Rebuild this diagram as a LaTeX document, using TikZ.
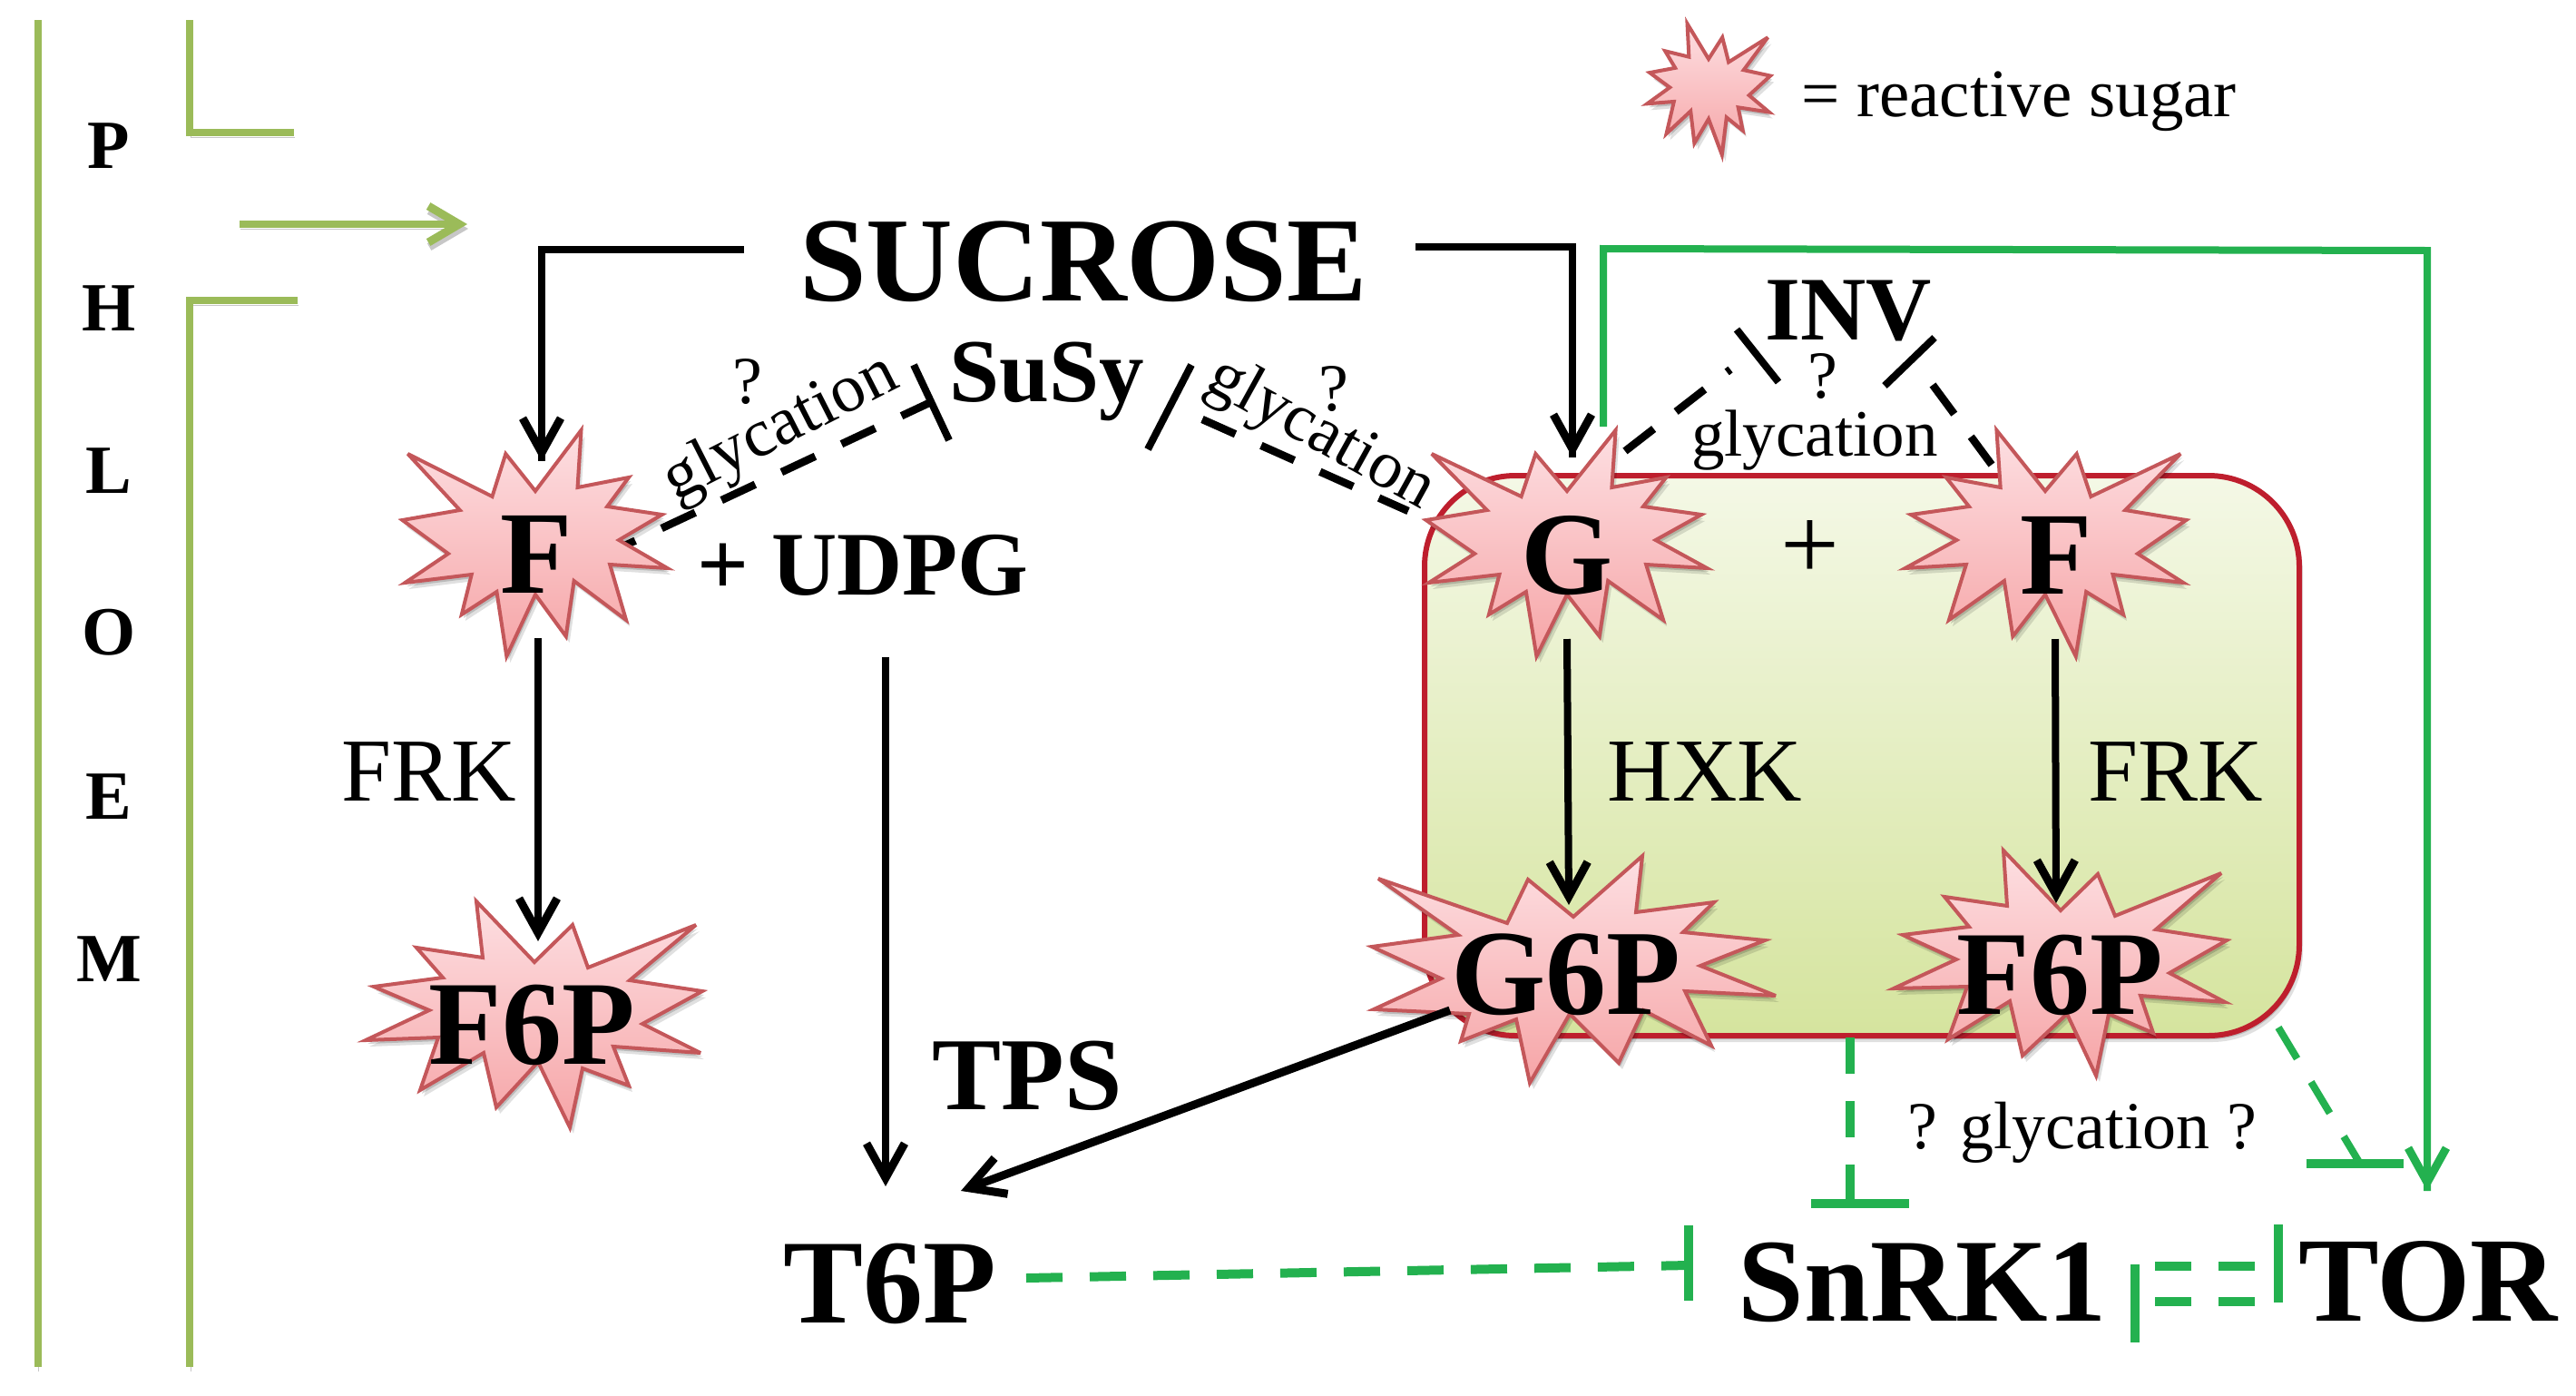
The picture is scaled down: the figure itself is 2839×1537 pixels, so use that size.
\documentclass[tikz,border=0pt]{standalone}
\usepackage{fontspec}
\setmainfont{Liberation Serif}
\usetikzlibrary{arrows.meta}
\definecolor{phl}{HTML}{9BBB59}
\definecolor{grn}{HTML}{23B14F}
\definecolor{rimred}{HTML}{BE1E2D}
\definecolor{starline}{HTML}{C4575A}
\definecolor{StarTop}{HTML}{FDDFE2}
\definecolor{StarBot}{HTML}{F6A5A7}
\definecolor{gtop}{HTML}{F4F8E6}
\definecolor{gpale}{HTML}{D5E49E}
\newcommand{\fs}[1]{\fontsize{#1}{#1}\selectfont}
\newcommand{\basestar}{(51,-136)--(47,-73)--(104,-84)--(80,-52)--(141,-43)--(93,-15)--(147,16)--(83,12)--(101,73)--(43,30)--(34,91)--(0,45)--(-32,113)--(-43,42)--(-82,67)--(-71,23)--(-145,32)--(-97,0)--(-148,-37)--(-84,-48)--(-142,-110)--(-48,-63)--(-33,-110)--(0,-69)--cycle}
\tikzset{
  softshadow/.style={preaction={fill=black,fill opacity=.12,draw=none,transform canvas={xshift=4pt,yshift=-7pt}},preaction={fill=black,fill opacity=.16,draw=none,transform canvas={xshift=2pt,yshift=-4pt}}},
  burst/.style={softshadow,draw=starline,line width=4pt,line join=miter,miter limit=5,top color=StarTop,bottom color=StarBot},
  linesh/.style={preaction={draw=black,draw opacity=.22,transform canvas={xshift=1pt,yshift=-5pt}}},
  phloem/.style={draw=phl,line width=8pt,linesh},
  blk/.style={draw=black,line width=8pt},
  grnline/.style={draw=grn,line width=8pt},
  grnthick/.style={draw=grn,line width=10pt},
  dashblk/.style={blk,line width=8.5pt,dash pattern=on 40pt off 31pt},
  dashgrn/.style={grnthick,dash pattern=on 40pt off 30pt},
  openhead/.style={-{Straight Barb[length=38pt,width=42pt,line width=9pt]}},
  bigb/.style={font=\fs{132}\bfseries,anchor=base,inner sep=0pt},
  midb/.style={font=\fs{100}\bfseries,anchor=base,inner sep=0pt},
  smallb/.style={font=\fs{76}\bfseries,anchor=base,inner sep=0pt},
  enz/.style={font=\fs{99},anchor=base,inner sep=0pt},
  note/.style={font=\fs{74},anchor=base,inner sep=0pt},
}
\begin{document}
\begin{tikzpicture}[x=1pt,y=-1pt]
\useasboundingbox (0,0) rectangle (2839,1537);
\fill[white] (0,0) rectangle (2839,1537);

% ---- coordinates
\coordinate (p1a) at (41.5,22); \coordinate (p1b) at (41.5,1506);
\coordinate (p2a) at (209,22); \coordinate (p2b) at (209,146); \coordinate (p2c) at (324,146);
\coordinate (p3a) at (328,331); \coordinate (p3b) at (209,331); \coordinate (p3c) at (209,1506);
\coordinate (pin) at (264,247); \coordinate (pout) at (515,247);
\coordinate (sl0) at (820,275); \coordinate (sl1) at (597,275); \coordinate (sl2) at (597,508);
\coordinate (sr0) at (1560,272); \coordinate (sr1) at (1733,272); \coordinate (sr2) at (1733,504);
\coordinate (g0) at (1767,470); \coordinate (g1) at (1767,274); \coordinate (g2) at (2675,276); \coordinate (g3) at (2675,1312);
\coordinate (f1a) at (593,703); \coordinate (f1b) at (593,1037);
\coordinate (ua) at (976,724); \coordinate (ub) at (976,1307);
\coordinate (ga) at (1727,704); \coordinate (gb) at (1729,997);
\coordinate (fa) at (2265,704); \coordinate (fb) at (2266,995);
\coordinate (g6a) at (1598,1113); \coordinate (g6b) at (1059,1312);
\coordinate (sa) at (663,613); \coordinate (sb) at (1026,443);
\coordinate (st1) at (1007,402); \coordinate (st2) at (1046,485);
\coordinate (su1) at (1313,402); \coordinate (su2) at (1265,495);
\coordinate (sc) at (1325,462); \coordinate (sd) at (1552,563);
\coordinate (ia) at (1791,497); \coordinate (ib) at (1907,407);
\coordinate (it1) at (1914,363); \coordinate (it2) at (1960,421);
\coordinate (iu1) at (2132,372); \coordinate (iu2) at (2077,425);
\coordinate (ic) at (2130,424); \coordinate (id) at (2195,512);
\coordinate (ta) at (1131,1408); \coordinate (tb) at (1861,1394);
\coordinate (tt1) at (1861,1350); \coordinate (tt2) at (1861,1433);
\coordinate (va) at (2039,1143); \coordinate (vb) at (2039,1326);
\coordinate (vt1) at (1996,1326); \coordinate (vt2) at (2104,1326);
\coordinate (da) at (2511,1132); \coordinate (db) at (2601,1282);
\coordinate (dt1) at (2542,1282); \coordinate (dt2) at (2649,1282);
\coordinate (l1) at (2353,1393); \coordinate (l2) at (2353,1479);
\coordinate (r1) at (2511,1349); \coordinate (r2) at (2511,1435);
\coordinate (ea) at (2375,1395); \coordinate (eb) at (2486,1395);
\coordinate (ec) at (2375,1434); \coordinate (ed) at (2486,1434);

% ---- phloem
\path[phloem] (p1a) -- (p1b);
\path[phloem,line join=miter] (p2a) -- (p2b) -- (p2c);
\path[phloem,line join=miter] (p3a) -- (p3b) -- (p3c);
\path[phloem,-{Straight Barb[length=34pt,width=40pt,line width=9pt]}] (pin) -- (pout);
\node[smallb] (lP) at (120,185) {P};
\node[smallb] (lH) at (120,364) {H};
\node[smallb] (lL) at (120,543) {L};
\node[smallb] (lO) at (120,721) {O};
\node[smallb] (lE) at (120,902) {E};
\node[smallb] (lM) at (120,1081) {M};

% ---- green cell compartment
\draw[softshadow,draw=rimred,line width=6pt,rounded corners=100pt,top color=gtop,bottom color=gpale]
  (1570,524) rectangle (2534,1141);

% ---- connectors lying under the stars
\path[dashblk,dash pattern=on 41pt off 32pt] (sa) -- (sb);
\path[blk] (st1) -- (st2);
\path[blk] (su1) -- (su2);
\path[dashblk] (sc) -- (sd);
\path[dashblk] (ia) -- (ib);
\path[blk] (it1) -- (it2);
\path[blk] (iu1) -- (iu2);
\path[dashblk] (ic) -- (id);
\path[blk,line join=miter] (sl0) -- (sl1) -- (sl2);
\path[blk,line join=miter] (sr0) -- (sr1) -- (sr2);
\path[grnline,line join=miter] (g0) -- (g1) -- (g2) -- (g3);

% ---- stars
\begin{scope}[shift={(590,610)},xscale=.99]\draw[burst] \basestar;\end{scope}
\begin{scope}[shift={(1727,610)},xscale=1.05]\draw[burst] \basestar;\end{scope}
\begin{scope}[shift={(2254,610)},xscale=-1.05]\draw[burst] \basestar;\end{scope}
\begin{scope}[shift={(1883,105)},xscale=-.46,yscale=.58]\draw[burst] \basestar;\end{scope}
\draw[burst] (525,993)--(532,1055)--(459,1044)--(488,1077)--(412,1087)--(473,1113)--(403,1146)--(483,1143)--(463,1201)--(533,1160)--(547,1220)--(593,1170)--(628,1242)--(642,1177)--(693,1196)--(676,1153)--(772,1160)--(708,1128)--(774,1092)--(694,1080)--(767,1019)--(648,1066)--(631,1019)--(589,1060)--cycle;
\draw[burst] (1810,943)--(1803,1005)--(1889,994)--(1855,1027)--(1945,1036)--(1874,1064)--(1957,1097)--(1857,1092)--(1886,1152)--(1811,1113)--(1784,1171)--(1730,1117)--(1686,1193)--(1671,1123)--(1610,1147)--(1619,1117)--(1514,1112)--(1588,1078)--(1512,1043)--(1607,1030)--(1519,968)--(1661,1017)--(1684,969)--(1734,1010)--cycle;
\draw[burst] (2208,937)--(2271,1003)--(2312,963)--(2331,1009)--(2448,962)--(2376,1024)--(2454,1036)--(2391,1072)--(2452,1104)--(2359,1097)--(2373,1138)--(2324,1117)--(2310,1185)--(2278,1117)--(2229,1163)--(2215,1103)--(2147,1145)--(2168,1087)--(2087,1089)--(2156,1057)--(2097,1030)--(2170,1021)--(2143,988)--(2212,998)--cycle;

% ---- arrows over the stars
\path[blk,openhead] (sl1) -- (sl2);
\path[blk,openhead] (sr1) -- (sr2);
\path[blk,openhead] (f1a) -- (f1b);
\path[blk,openhead] (ua) -- (ub);
\path[blk,openhead] (ga) -- (gb);
\path[blk,openhead] (fa) -- (fb);
\path[blk,line width=9pt,openhead] (g6a) -- (g6b);
\path[grnline,-{Straight Barb[length=38pt,width=42pt,line width=9pt]}] (g2) -- (g3);

% ---- green inhibition
\path[dashgrn] (ta) -- (tb);
\path[grnthick] (tt1) -- (tt2);
\path[dashgrn] (va) -- (vb);
\path[grnthick] (vt1) -- (vt2);
\path[dashgrn,line width=8pt] (da) -- (db);
\path[grnthick] (dt1) -- (dt2);
\path[grnthick] (l1) -- (l2);
\path[grnthick] (r1) -- (r2);
\path[dashgrn] (ea) -- (eb);
\path[dashgrn] (ec) -- (ed);

% ---- text
\node[font=\fs{132.5}\bfseries,anchor=base,inner sep=0pt] (suc) at (1194,331) {SUCROSE};
\node[font=\fs{100}\bfseries,anchor=base,inner sep=0pt] (inv) at (2037,374) {INV};
\node[note] (q1) at (2009,438) {?};
\node[font=\fs{73},anchor=base,inner sep=0pt] (gl1) at (2000,502) {glycation};
\node[font=\fs{115},inner sep=0pt] (plus) at (1995,606) {+};
\node[bigb,font=\fs{130}\bfseries] (G) at (1727,654) {G};
\node[bigb,font=\fs{130}\bfseries] (F2) at (2266,654) {F};
\node[bigb,font=\fs{130}\bfseries] (F1) at (591,653) {F};
\node[midb] (udpg) at (951,655) {+ UDPG};
\node[midb,font=\fs{99}\bfseries] (susy) at (1154,442) {SuSy};
\node[font=\fs{75},inner sep=0pt,rotate=27] (gl2) at (861,473) {glycation};
\node[note] (q2) at (824,444) {?};
\node[font=\fs{74},inner sep=0pt,rotate=-29] (gl3) at (1455,479) {glycation};
\node[note] (q3) at (1470,452) {?};
\node[enz] (frk1) at (473,882) {FRK};
\node[enz] (hxk) at (1879,882) {HXK};
\node[enz] (frk2) at (2398,882) {FRK};
\node[bigb] (f6l) at (586,1172) {F6P};
\node[bigb,font=\fs{134}\bfseries] (g6p) at (1726,1117) {G6P};
\node[bigb] (f6r) at (2270,1117) {F6P};
\node[font=\fs{114}\bfseries,anchor=base,inner sep=0pt] (tps) at (1132,1222) {TPS};
\node[bigb] (t6p) at (981,1457) {T6P};
\node[font=\fs{130.5}\bfseries,anchor=base,inner sep=0pt] (snrk) at (2119,1455) {SnRK1};
\node[bigb,font=\fs{133}\bfseries] (tor) at (2676,1455) {TOR};
\node[note] (qgq) at (2295,1265) {? glycation ?};
\node[note,font=\fs{75}] (leg) at (2225,128) {= reactive sugar};
\end{tikzpicture}
\end{document}
